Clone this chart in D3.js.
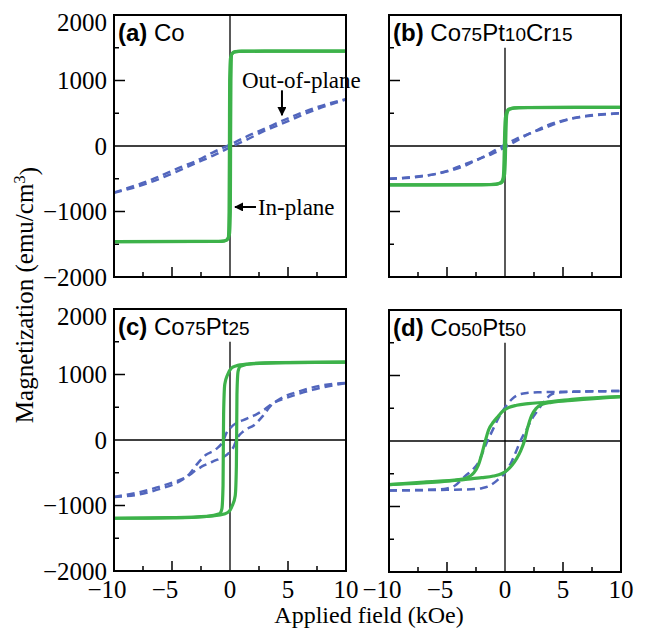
<!DOCTYPE html>
<meta charset="utf-8">
<head>
<script src="https://d3js.org/d3.v7.min.js"></script>
<style>
  body { margin: 0; background: #fff; }
  text { fill: #000; }
</style>
</head>
<body>
<script>

// ---- data (field in kOe, magnetization in emu/cm3) ----
// (a) Co
var aInUp   = [[-10,-1460],[-1,-1458],[-0.45,-1450],[-0.15,-1400],[-0.08,-1000],[-0.05,0],[-0.03,1000],[0.05,1350],[0.3,1430],[0.8,1445],[10,1450]];
var aInDown = [[10,1450],[1,1448],[0.45,1440],[0.15,1400],[0.08,1000],[0.05,0],[0.03,-1000],[-0.05,-1350],[-0.3,-1440],[-0.8,-1455],[-10,-1460]];
var aOutDown = [[-10,-710],[-7,-530],[-4.2,-320],[-3,-235],[-1.5,-100],[0,20],[1.5,150],[3,265],[4.7,400],[7.2,575],[10,715]];
var aOutUp   = [[-10,-715],[-7.2,-575],[-4.7,-400],[-3,-265],[-1.5,-150],[0,-20],[1.5,100],[3,235],[4.2,320],[7,530],[10,710]];

// (b) Co75Pt10Cr15
var bInUp   = [[-10,-595],[-2,-592],[-0.8,-585],[-0.35,-560],[-0.15,-480],[-0.08,-200],[-0.03,200],[0.05,450],[0.3,560],[1.2,585],[10,590]];
var bInDown = [[10,590],[2,588],[0.8,583],[0.35,560],[0.15,480],[0.08,200],[0.03,-200],[-0.05,-450],[-0.3,-560],[-1.2,-588],[-10,-595]];
var bOutDown = [[-10,-500],[-7.1,-462],[-4.8,-370],[-3.4,-275],[-2.2,-195],[-1.1,-90],[0,20],[1.1,120],[2.4,210],[3.5,305],[4.7,375],[6.1,433],[7.2,458],[10,502]];
var bOutUp   = [[-10,-502],[-7.2,-458],[-6.1,-433],[-4.7,-375],[-3.5,-305],[-2.4,-210],[-1.1,-120],[0,-20],[1.1,90],[2.2,195],[3.4,275],[4.8,370],[7.1,462],[10,500]];

// (c) Co75Pt25
var cInUp   = [[-10,-1195],[-4,-1185],[-1.5,-1160],[-0.5,-1130],[-0.1,-1095],[0.2,-1000],[0.45,-850],[0.55,-400],[0.57,0],[0.6,700],[0.7,1050],[0.9,1125],[2,1165],[5,1182],[10,1190]];
var cInDown = [[10,1190],[4,1182],[1.5,1160],[0.5,1130],[0.1,1095],[-0.2,1000],[-0.45,850],[-0.55,400],[-0.57,0],[-0.6,-700],[-0.7,-1050],[-0.9,-1125],[-2,-1165],[-5,-1185],[-10,-1195]];
var cOutUp   = [[-10,-870],[-7.1,-765],[-4.8,-638],[-3.7,-560],[-3,-470],[-2.2,-385],[-1.5,-330],[0,-180],[0.3,-110],[0.6,20],[1.2,140],[2.1,230],[2.8,360],[3.5,520],[4.4,636],[6.1,750],[7.8,830],[10,870]];
var cOutDown = [[10,870],[7.1,765],[4.8,638],[3.7,560],[3,470],[2.2,385],[1.5,330],[0,180],[-0.3,110],[-0.6,-20],[-1.2,-140],[-2.1,-230],[-2.8,-360],[-3.5,-520],[-4.4,-636],[-6.1,-750],[-7.8,-830],[-10,-870]];

// (d) Co50Pt50
var dInDown = [[10,678],[6,640],[3.5,592],[2,570],[1,545],[0.3,510],[-0.2,455],[-0.6,375],[-1,290],[-1.4,175],[-1.7,0],[-2,-200],[-2.3,-370],[-2.7,-490],[-3.2,-555],[-4,-590],[-7,-626],[-10,-666]];
var dInUp   = [[-10,-666],[-6,-630],[-3.4,-585],[-2,-560],[-1,-535],[-0.3,-500],[0.2,-445],[0.6,-370],[1,-270],[1.35,-150],[1.67,0],[1.95,200],[2.3,390],[2.7,500],[3.2,560],[4,590],[6,625],[10,678]];
var dOutDown = [[10,763],[6,755],[4.4,750],[3,745],[2,735],[1.2,710],[0.6,640],[0,510],[-0.5,370],[-0.9,229],[-1.3,80],[-1.7,-76],[-2.3,-330],[-2.8,-440],[-3.4,-530],[-4.3,-680],[-5,-725],[-5.8,-740],[-10,-755]];
var dOutUp   = [[-10,-755],[-5,-745],[-2.9,-737],[-2,-720],[-1.4,-690],[-0.6,-590],[0,-483],[0.6,-305],[1,-140],[1.4,26],[1.9,190],[2.3,331],[2.8,460],[3.2,560],[3.6,650],[4,713],[4.6,740],[5.8,750],[10,763]];

var titleA = [["Co",0]];
var titleB = [["Co",0],["75",1],["Pt",0],["10",1],["Cr",0],["15",1]];
var titleC = [["Co",0],["75",1],["Pt",0],["25",1]];
var titleD = [["Co",0],["50",1],["Pt",0],["50",1]];

var yMinor = [-1500,-1000,-500,500,1000,1500];
var yLabels = [2000,1000,0,-1000,-2000];
var xMinor = [-7.5,-5,-2.5,2.5,5,7.5];
var xLabels = [-10,-5,0,5,10];

// ---- layout ----
var width = 649, height = 630;
var pw = 232, ph = 262;
var green = "#3db24a", blue = "#5266bd";
var serif = "'Liberation Serif','Times New Roman',serif";
var sans = "'Liberation Sans',Arial,sans-serif";

var svg = d3.select("body").append("svg")
    .attr("width", width)
    .attr("height", height);

var panels = [
  {tag:"a", x0:114, y0:15,  title:titleA, inUp:aInUp, inDown:aInDown, outUp:aOutUp, outDown:aOutDown, zeroTop:2000, left:true,  bottom:false},
  {tag:"b", x0:389, y0:15,  title:titleB, inUp:bInUp, inDown:bInDown, outUp:bOutUp, outDown:bOutDown, zeroTop:1500, left:false, bottom:false},
  {tag:"c", x0:114, y0:309, title:titleC, inUp:cInUp, inDown:cInDown, outUp:cOutUp, outDown:cOutDown, zeroTop:1500, left:true,  bottom:true},
  {tag:"d", x0:389, y0:310, title:titleD, inUp:dInUp, inDown:dInDown, outUp:dOutUp, outDown:dOutDown, zeroTop:1500, left:false, bottom:true}
];

var fmt = d3.format("d");

panels.forEach(function(p) {
  var x = d3.scaleLinear().domain([-10, 10]).range([p.x0, p.x0 + pw]);
  var y = d3.scaleLinear().domain([-2000, 2000]).range([p.y0 + ph, p.y0]);
  p.x = x; p.y = y;

  var g = svg.append("g");

  g.append("clipPath").attr("id", "clip" + p.tag)
    .append("rect").attr("x", p.x0).attr("y", p.y0).attr("width", pw).attr("height", ph);

  // zero lines
  g.append("line")
    .attr("x1", x(-10)).attr("x2", x(10)).attr("y1", y(0)).attr("y2", y(0))
    .attr("stroke", "#000").attr("stroke-width", 1.3);
  g.append("line")
    .attr("x1", x(0)).attr("x2", x(0)).attr("y1", y(p.zeroTop)).attr("y2", y(-2000))
    .attr("stroke", "#000").attr("stroke-width", 1.3);

  // inner ticks
  g.selectAll(".yt").data(yMinor).enter().append("line")
    .attr("x1", p.x0).attr("x2", function(d) { return p.x0 + (d % 1000 == 0 ? 11 : 5); })
    .attr("y1", function(d) { return y(d); }).attr("y2", function(d) { return y(d); })
    .attr("stroke", "#000").attr("stroke-width", 1.5);
  g.selectAll(".xt").data(xMinor).enter().append("line")
    .attr("x1", function(d) { return x(d); }).attr("x2", function(d) { return x(d); })
    .attr("y1", p.y0 + ph).attr("y2", function(d) { return p.y0 + ph - (d % 5 == 0 ? 10 : 5); })
    .attr("stroke", "#000").attr("stroke-width", 1.5);

  var line = d3.line()
      .x(function(d) { return x(d[0]); })
      .y(function(d) { return y(d[1]); })
      .curve(d3.curveMonotoneX);
  function sorted(a) { return a.slice().sort(function(u, v) { return u[0] - v[0]; }); }

  var curves = g.append("g").attr("clip-path", "url(#clip" + p.tag + ")");
  [p.outDown, p.outUp].forEach(function(br) {
    curves.append("path").attr("d", line(sorted(br)))
      .attr("fill", "none").attr("stroke", blue).attr("stroke-width", 2.5)
      .attr("stroke-dasharray", "8,5");
  });
  [p.inDown, p.inUp].forEach(function(br) {
    curves.append("path").attr("d", line(sorted(br)))
      .attr("fill", "none").attr("stroke", green).attr("stroke-width", 3.2)
      .attr("stroke-linejoin", "round");
  });

  // frame
  g.append("rect").attr("x", p.x0).attr("y", p.y0).attr("width", pw).attr("height", ph)
    .attr("fill", "none").attr("stroke", "#000").attr("stroke-width", 2);

  // panel title
  var t = g.append("text").attr("x", p.x0 + 4).attr("y", p.y0 + 26)
    .style("font-family", sans).style("font-size", "24px");
  t.append("tspan").style("font-weight", "bold").text("(" + p.tag + ")");
  t.append("tspan").text(" ");
  p.title.forEach(function(s) {
    t.append("tspan").style("font-size", s[1] ? "19px" : "24px").text(s[0]);
  });

  if (p.left) {
    g.selectAll(".yl").data(yLabels).enter().append("text")
      .attr("x", p.x0 - 7)
      .attr("y", function(d) { return Math.max(y(d), p.y0 + 7); })
      .attr("dy", "0.34em")
      .attr("text-anchor", "end")
      .style("font-family", serif).style("font-size", "25px")
      .text(function(d) { return fmt(d); });
  }
  if (p.bottom) {
    // digits are centred on the tick, the minus sign hangs to the left
    xLabels.forEach(function(d) {
      var num = g.append("text")
        .attr("x", x(d)).attr("y", 598)
        .attr("text-anchor", "middle")
        .style("font-family", serif).style("font-size", "25px")
        .text(fmt(Math.abs(d)));
      if (d < 0) {
        var w = num.node().getComputedTextLength();
        g.append("text")
          .attr("x", x(d) - w / 2).attr("y", 598)
          .attr("text-anchor", "end")
          .style("font-family", serif).style("font-size", "25px")
          .text("\u2212");
      }
    });
  }
});

// annotations in (a)
var pa = panels[0];
var ann = svg.append("g");
ann.append("defs").append("marker").attr("id", "head")
  .attr("viewBox", "0 0 10 10").attr("refX", 9).attr("refY", 5)
  .attr("markerWidth", 4.5).attr("markerHeight", 4.5).attr("orient", "auto")
  .append("path").attr("d", "M0,0L10,5L0,10z").attr("fill", "#000");

ann.append("text").attr("x", pa.x(1.03)).attr("y", pa.y(885))
  .style("font-family", serif).style("font-size", "23px").text("Out-of-plane");
ann.append("line")
  .attr("x1", pa.x(4.48)).attr("x2", pa.x(4.48)).attr("y1", pa.y(850)).attr("y2", pa.y(470))
  .attr("stroke", "#000").attr("stroke-width", 2).attr("marker-end", "url(#head)");
ann.append("text").attr("x", pa.x(2.41)).attr("y", pa.y(-1053))
  .style("font-family", serif).style("font-size", "23px").text("In-plane");
ann.append("line")
  .attr("x1", pa.x(2.24)).attr("x2", pa.x(0.43)).attr("y1", pa.y(-931)).attr("y2", pa.y(-931))
  .attr("stroke", "#000").attr("stroke-width", 2).attr("marker-end", "url(#head)");

// axis titles
var yt = svg.append("text")
  .attr("transform", "translate(33,295) rotate(-90)")
  .attr("text-anchor", "middle")
  .style("font-family", serif).style("font-size", "25px");
yt.append("tspan").text("Magnetization (emu/cm");
yt.append("tspan").attr("dy", "-0.45em").style("font-size", "17px").text("3");
yt.append("tspan").attr("dy", "0.45em").text(")");

svg.append("text")
  .attr("x", 369).attr("y", 623)
  .attr("text-anchor", "middle")
  .style("font-family", serif).style("font-size", "24px")
  .text("Applied field (kOe)");

</script>
</body>
